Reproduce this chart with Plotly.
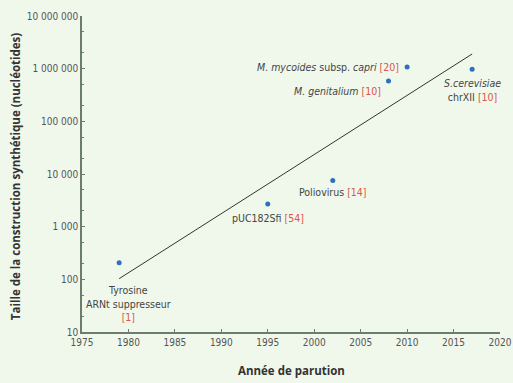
import math
import plotly.graph_objects as go

# Data
years = [1979, 1995, 2002, 2008, 2010, 2017]
sizes = [207, 2700, 7500, 583000, 1080000, 976000]
names = ["Tyrosine<br>ARNt suppresseur<br><span style='color:#dc5548'>[1]</span>",
         "pUC182Sfi <span style='color:#dc5548'>[54]</span>",
         "Poliovirus <span style='color:#dc5548'>[14]</span>",
         "<i>M. genitalium</i> <span style='color:#dc5548'>[10]</span>",
         "<i>M. mycoides</i> subsp. <i>capri</i> <span style='color:#dc5548'>[20]</span>",
         "<i>S.cerevisiae</i><br>chrXII <span style='color:#dc5548'>[10]</span>"]
trend_x = [1979, 2017]
trend_y = [103, 1900000]
ytick_vals = [10, 100, 1000, 10000, 100000, 1000000, 10000000]
ytick_text = ["10", "100", "1 000", "10 000", "100 000", "1 000 000", "10 000 000"]
xtick_vals = list(range(1975, 2021, 5))
x_title = "Année de parution"
y_title = "Taille de la construction synthétique (nucléotides)"

# label offsets (pixels): dx, dy, xanchor, yanchor
offsets = [(9, -19, "center", "top"), (0, -14, "center", "middle"), (0, -11, "center", "middle"),
           (-6, -10, "right", "middle"), (-6, 0, "right", "middle"), (0, -6, "center", "top")]

axis_col = "#6d7d6d"
bg = "#f0f8ec"
font_fam = "DejaVu Sans Condensed, Liberation Sans Narrow, Open Sans, sans-serif"
title_font = dict(size=11.5, color="#333333", family="Open Sans, sans-serif")

fig = go.Figure()
fig.add_trace(go.Scatter(x=trend_x, y=trend_y, mode="lines",
                         line=dict(color="#333333", width=1), hoverinfo="skip"))
fig.add_trace(go.Scatter(x=years, y=sizes, mode="markers",
                         marker=dict(color="#2e6fc0", size=5)))

for (xv, yv, name, (dx, dy, xa, ya)) in zip(years, sizes, names, offsets):
    fig.add_annotation(x=xv, y=math.log10(yv), xref="x", yref="y",
                       text=name, showarrow=False, xanchor=xa, yanchor=ya,
                       xshift=dx, yshift=dy,
                       font=dict(family=font_fam, size=10.5, color="#444444"),
                       align="center")

# axis titles
fig.add_annotation(x=0.5, y=0, xref="paper", yref="paper", yshift=-38,
                   xanchor="center", yanchor="middle", showarrow=False,
                   text="<b>" + x_title + "</b>", font=title_font)
fig.add_annotation(x=0, y=0.49, xref="paper", yref="paper", xshift=-67,
                   xanchor="center", yanchor="middle", showarrow=False, textangle=-90,
                   text="<b>" + y_title + "</b>", font=title_font)

fig.update_layout(
    width=513, height=383,
    margin=dict(l=82, r=13, t=16, b=51),
    paper_bgcolor=bg, plot_bgcolor=bg,
    showlegend=False,
    font=dict(family=font_fam, color="#555555"),
    xaxis=dict(range=[1975, 2020], tickvals=xtick_vals, showgrid=False, zeroline=False,
               automargin=False,
               showline=True, linecolor=axis_col, linewidth=1.5,
               ticks="inside", ticklen=3, tickcolor=axis_col,
               tickfont=dict(size=10, color="#555555")),
    yaxis=dict(type="log", range=[1, 7], tickvals=ytick_vals, ticktext=ytick_text,
               ticksuffix="\u00a0",
               showgrid=False, zeroline=False, automargin=False,
               showline=True, linecolor=axis_col, linewidth=1.5,
               ticks="inside", ticklen=3, tickcolor=axis_col,
               minor=dict(ticks="inside", ticklen=2, tickcolor=axis_col, showgrid=False),
               tickfont=dict(size=10, color="#555555")),
)

fig.write_html("out.html")
